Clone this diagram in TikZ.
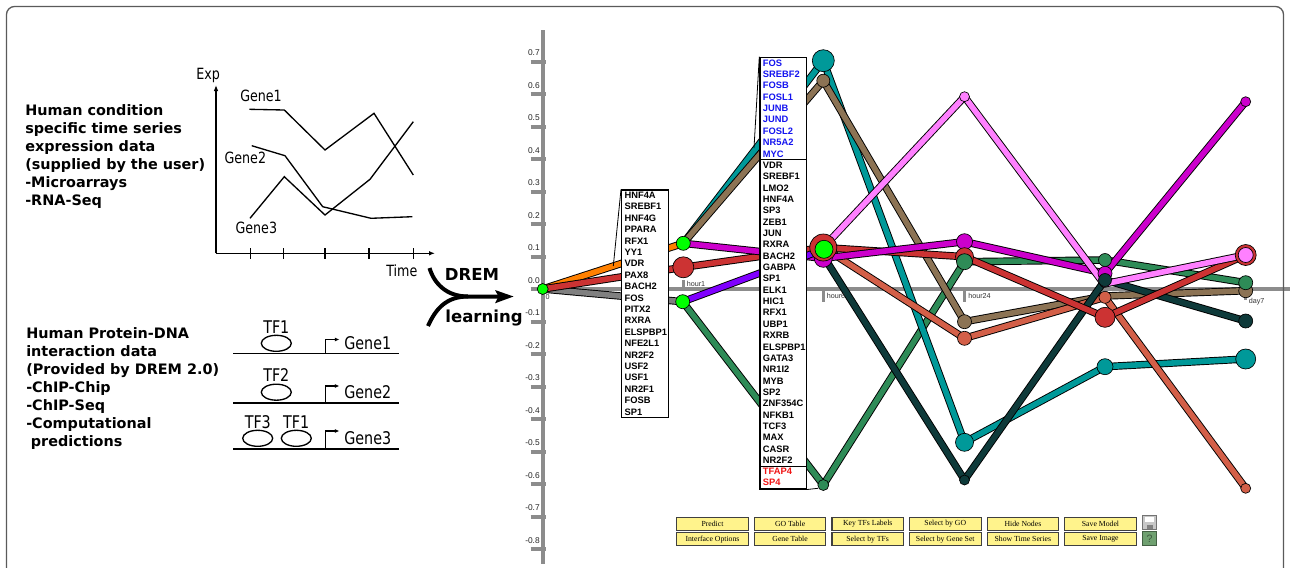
\documentclass[tikz,border=0pt]{standalone}
\usepackage{fontspec}
\setmainfont{DejaVu Sans}
\newfontfamily\condf{DejaVu Sans}[FakeStretch=0.82]
\newfontfamily\arialf{Liberation Sans}
\newfontfamily\serf{Liberation Serif}
\usetikzlibrary{arrows.meta,shapes.geometric}
\pgfdeclarelayer{axes}
\pgfdeclarelayer{edges}
\pgfsetlayers{axes,edges,main}
\definecolor{cLime}{HTML}{00FF00}
\definecolor{cOrange}{HTML}{FF8000}
\definecolor{cRed}{HTML}{CC3333}
\definecolor{cGray}{HTML}{808080}
\definecolor{cTeal}{HTML}{009999}
\definecolor{cBrown}{HTML}{8C7354}
\definecolor{cMag}{HTML}{CC00CC}
\definecolor{cPurple}{HTML}{8000FF}
\definecolor{cSea}{HTML}{2E8B57}
\definecolor{cPink}{HTML}{FF80FF}
\definecolor{cSalmon}{HTML}{D35F48}
\definecolor{cDark}{HTML}{0E3A3A}
\definecolor{cAxis}{HTML}{8C8C8C}
\definecolor{cBtn}{HTML}{FFF38C}
\definecolor{cBlue}{HTML}{1414F0}
\definecolor{cTxtRed}{HTML}{F01414}
\definecolor{cFrame}{HTML}{5A5A5A}
\definecolor{cHelp}{HTML}{6FA070}
\tikzset{
  pnode/.style={circle,draw=black,line width=0.5pt,fill=#1,inner sep=0pt},
  pedge/.style={draw=black,line width=0.7pt,double=#1,double distance=4.2pt,line join=round},
  axg/.style={draw=cAxis,line width=3pt},
  ttk/.style={draw=cAxis,line width=2.2pt},
  axl/.style={font=\arialf\fontsize{6.3pt}{7pt}\selectfont,inner sep=0pt,text=black!85},
  tml/.style={font=\arialf\fontsize{5.4pt}{6pt}\selectfont,inner sep=0pt,text=black!80},
  btxt/.style={font=\arialf\bfseries\fontsize{7pt}{8pt}\selectfont,inner sep=0pt,anchor=base west},
  tfbox/.style={rectangle,draw=black,line width=0.9pt,fill=white,inner sep=0pt,anchor=north west},
  btn/.style={rectangle,draw=black!75,line width=0.8pt,fill=cBtn,minimum width=53.6pt,minimum height=9.5pt,inner sep=0pt,font=\serf\fontsize{5.8pt}{6pt}\selectfont},
  lt/.style={font=\bfseries\fontsize{10.8pt}{13pt}\selectfont,inner sep=0pt,anchor=base west},
  gl/.style={font=\condf\fontsize{11.6pt}{12pt}\selectfont,inner sep=0pt,anchor=base west},
  tfl/.style={font=\condf\fontsize{13.1pt}{14pt}\selectfont,inner sep=0pt},
  gline/.style={draw=black,line width=1pt},
  dna/.style={draw=black,line width=1.2pt},
  tfell/.style={ellipse,draw=black,line width=1pt,inner sep=0pt,minimum width=22.5pt,minimum height=12pt},
  drem/.style={font=\bfseries\fontsize{12.4pt}{14pt}\selectfont,inner sep=0pt,anchor=base},
  callout/.style={draw=black,line width=0.6pt}
}
\begin{document}
\begin{tikzpicture}[x=0.75pt,y=-0.75pt]
\useasboundingbox (0,0) rectangle (1290,568);
% frame
\draw[cFrame,line width=1pt,rounded corners=6pt] (6.5,6.5) rectangle (1283.5,640);

% ---------- left: time series text ----------
\foreach \s [count=\i] in {Human condition,specific time series,expression data,{(supplied by the user)},-Microarrays,-RNA-Seq}
  \node[lt] (ex\i) at (25,{115+18*(\i-1)}) {\s};
\foreach \s [count=\i] in {Human Protein-DNA,interaction data,{(Provided by DREM 2.0)},-ChIP-Chip,-ChIP-Seq,-Computational,{\hspace*{3.5pt}predictions}}
  \node[lt] (pd\i) at (26,{338.3+18*(\i-1)}) {\s};

% ---------- expression sketch ----------
\draw[gline,-{Latex[length=4.5pt,width=3.5pt]}] (216,253.3) -- (216,85);
\draw[gline,-{Latex[length=4.5pt,width=3.5pt]}] (216,253.3) -- (435,253.3);
\foreach \xx in {250.7,283.3,325,369,413.3}
  \draw[gline] (\xx,248.3) -- (\xx,259.3);
\node[gl] (lexp) at (196,79) {Exp};
\node[gl] (ltime) at (386,276.7) {Time};
\node[gl] (lg1) at (240,101.7) {Gene1};
\node[gl] (lg2) at (224.3,163.3) {Gene2};
\node[gl] (lg3) at (235.3,233.3) {Gene3};
\draw[gline,line join=miter] (249.3,109.3) -- (284.3,110) -- (325,150) -- (374,113.3) -- (413.3,175);
\draw[gline,line join=miter] (251.7,145.7) -- (285,155.7) -- (322.7,206.7) -- (371,218.3) -- (412.3,216.7);
\draw[gline,line join=miter] (250,218.3) -- (284.3,176.7) -- (325,215) -- (370,179.3) -- (413.3,121.7);

% ---------- TF binding sketch ----------
\draw[dna] (233.3,353.3) -- (399.3,353.3);
\draw[dna] (233.3,402.7) -- (399.3,402.7);
\draw[dna] (233.3,449) -- (399.3,449);
\node[tfell] (e1) at (276.3,343.3) {};
\node[tfell] (e2) at (276.3,392.2) {};
\node[tfell] (e3) at (257.7,438.3) {};
\node[tfell] (e4) at (296.3,438.3) {};
\node[tfl,anchor=base] (tf1) at (276.3,333.3) {TF1};
\node[tfl,anchor=base] (tf2) at (276.3,381.7) {TF2};
\node[tfl,anchor=base] (tf3) at (257.8,428.3) {TF3};
\node[tfl,anchor=base] (tf4) at (296.2,428.3) {TF1};
\draw[gline,-{Latex[length=3.5pt,width=3pt]}] (325.3,353.3) -- (325.3,339.5) -- (339.5,339.5);
\draw[gline,-{Latex[length=3.5pt,width=3pt]}] (325.3,402.7) -- (325.3,386) -- (339.5,386);
\draw[gline,-{Latex[length=3.5pt,width=3pt]}] (325.3,449) -- (325.3,431) -- (339.5,431);
\node[tfl,anchor=base west] (pg1) at (344,349.3) {Gene1};
\node[tfl,anchor=base west] (pg2) at (344,398.3) {Gene2};
\node[tfl,anchor=base west] (pg3) at (344,444) {Gene3};

% ---------- DREM learning arrow ----------
\draw[line width=3pt] (429.5,268) .. controls (434,283) and (446,296.5) .. (468,296.5) -- (500,296.5);
\draw[line width=3pt] (428,326) .. controls (436,308) and (447,296.5) .. (468,296.5);
\fill (495,290) -- (513.5,296.5) -- (495,303.3) -- (498.5,296.5) -- cycle;
\node[drem] (tdrem) at (472,280) {DREM};
\node[drem] (tlearn) at (484,322) {learning};

% ---------- DREM chart axes ----------
\begin{pgfonlayer}{axes}
\draw[axg] (542.7,30) -- (542.7,564);
\draw[axg] (542.7,288.5) -- (1290,288.5);
\foreach \v [count=\i] in {0.7,0.6,0.5,0.4,0.3,0.2,0.1,0.0,-0.1,-0.2,-0.3,-0.4,-0.5,-0.6,-0.7,-0.8}{
  \draw[axg] (530.7,{61.5+32.5*(\i-1)}) -- (546,{61.5+32.5*(\i-1)});
}
\draw[ttk] (683.3,280) -- (683.3,288.5);
\draw[ttk] (823.3,288.5) -- (823.3,301.7);
\draw[ttk] (964.5,288.5) -- (964.5,301.7);
\draw[ttk] (1245.7,288.5) -- (1245.7,300);
\end{pgfonlayer}
\foreach \v [count=\i] in {0.7,0.6,0.5,0.4,0.3,0.2,0.1,0.0,-0.1,-0.2,-0.3,-0.4,-0.5,-0.6,-0.7,-0.8}
  \node[axl,anchor=east] (yl\i) at (540,{53+32.5*(\i-1)}) {\v};
\node[tml] (tl0) at (547.5,297) {0};
\node[tml,anchor=west] (tl1) at (686.5,284) {hour1};
\node[tml,anchor=west] (tl2) at (826.5,296) {hour6};
\node[tml,anchor=west] (tl3) at (968,296) {hour24};
\node[tml,anchor=west] (tl4) at (1248.5,301.5) {day7};

% ---------- nodes ----------
\node[pnode=cLime,minimum size=8.25pt] (n0) at (542.7,289) {};
\node[pnode=cLime,minimum size=10.5pt] (n1a) at (683.3,243.3) {};
\node[pnode=cRed,minimum size=15.75pt] (n1b) at (683.3,267.3) {};
\node[pnode=cLime,minimum size=10.5pt] (n1c) at (682.7,301.7) {};
\node[pnode=cTeal,minimum size=16.5pt] (n2teal) at (823.3,60.7) {};
\node[pnode=cBrown,minimum size=9.75pt] (n2brown) at (823.3,80.7) {};
\node[pnode=cSea,minimum size=8.25pt] (n2sea) at (823.3,485) {};
\coordinate (n2dark) at (823.3,256);
\node[pnode=cMag,minimum size=13.5pt] (n2mag) at (823.3,258.3) {};
\node[pnode=cRed,minimum size=20.25pt] (n2red) at (823.3,247.5) {};
\node[pnode=cLime,minimum size=13.5pt] (n2lime) at (824,249.3) {};
\node[pnode=cPink,minimum size=7.5pt] (n3pink) at (964.5,96.7) {};
\node[pnode=cMag,minimum size=12pt] (n3mag) at (964.5,241.7) {};
\node[pnode=cRed,minimum size=13.5pt] (n3red) at (964.5,256.7) {};
\node[pnode=cSea,minimum size=12pt] (n3sea) at (964.5,261.7) {};
\node[pnode=cBrown,minimum size=10.5pt] (n3brown) at (964.5,321.7) {};
\node[pnode=cSalmon,minimum size=10.5pt] (n3salmon) at (964.5,338.3) {};
\node[pnode=cTeal,minimum size=13.5pt] (n3teal) at (964.5,442.3) {};
\node[pnode=cDark,minimum size=7.5pt] (n3dark) at (964.5,480) {};
\coordinate (n4pink) at (1104,284);
\coordinate (n4brown) at (1105,296);
\node[pnode=cSea,minimum size=9.75pt] (n4sea) at (1105,260) {};
\node[pnode=cMag,minimum size=10.5pt] (n4mag) at (1105,273.3) {};
\node[pnode=cDark,minimum size=9.75pt] (n4dark) at (1105,280) {};
\node[pnode=cSalmon,minimum size=9pt] (n4salmon) at (1105,297.3) {};
\node[pnode=cRed,minimum size=15pt] (n4red) at (1105,317.3) {};
\node[pnode=cTeal,minimum size=12pt] (n4teal) at (1105,366.7) {};
\node[pnode=cMag,minimum size=7.5pt] (n5mag) at (1245.7,101.7) {};
\node[pnode=cRed,minimum size=15.75pt] (n5red) at (1245.7,255) {};
\node[pnode=cPink,minimum size=11.25pt] (n5pink) at (1245.7,255) {};
\node[pnode=cBrown,minimum size=10.5pt] (n5brown) at (1245.7,290.7) {};
\node[pnode=cSea,minimum size=10.5pt] (n5sea) at (1245.7,282.7) {};
\node[pnode=cDark,minimum size=10.5pt] (n5dark) at (1245.7,321) {};
\node[pnode=cTeal,minimum size=15pt] (n5teal) at (1245.7,359) {};
\node[pnode=cSalmon,minimum size=7.5pt] (n5salmon) at (1245.7,488.3) {};

% ---------- edges ----------
\begin{pgfonlayer}{edges}
\draw[pedge=cGray] (n0.center) -- (n1c.center);
\draw[pedge=cOrange] (n0.center) -- (n1a.center);
\draw[pedge=cRed] (n0.center) -- (n1b.center);
\draw[pedge=cSea] (n1c.center) -- (n2sea.center) -- (n3sea.center) -- (n4sea.center) -- (n5sea.center);
\draw[pedge=cTeal] (n1a.center) -- (n2teal.center) -- (n3teal.center) -- (n4teal.center) -- (n5teal.center);
\draw[pedge=cBrown] (n1a.center) -- (n2brown.center) -- (n3brown.center) -- (n4brown) -- (n5brown.center);
\draw[pedge=cSalmon] (n2red.center) -- (n3salmon.center) -- (n4salmon.center) -- (n5salmon.center);
\draw[pedge=cDark] (n2dark) -- (n3dark.center) -- (n4dark.center) -- (n5dark.center);
\draw[pedge=cRed] (n1b.center) -- (n2red.center) -- (n3red.center) -- (n4red.center) -- (n5red.center);
\draw[pedge=cMag] (n1a.center) -- (n2mag.center) -- (n3mag.center) -- (n4mag.center) -- (n5mag.center);
\draw[pedge=cPurple] (n1c.center) -- (n2lime.center);
\draw[pedge=cPink] (n2red.center) -- (n3pink.center) -- (n4pink) -- (n5pink.center);
\end{pgfonlayer}

% ---------- TF boxes ----------
\node[tfbox,minimum width=35.25pt,minimum height=170.55pt] (box1) at (621,189.3) {};
\foreach \s [count=\i] in {HNF4A,SREBF1,HNF4G,PPARA,RFX1,YY1,VDR,PAX8,BACH2,FOS,PITX2,RXRA,ELSPBP1,NFE2L1,NR2F2,USF2,USF1,NR2F1,FOSB,SP1}
  \node[btxt] (bA\i) at (624.3,{198.4+11.4*(\i-1)}) {\s};
\coordinate (c1) at (613.3,266);
\draw[callout] (box1.north west) -- (c1);

\node[tfbox,minimum width=35pt,minimum height=76.5pt] (box2a) at (759.3,56.7) {};
\node[tfbox,minimum width=35pt,minimum height=230.25pt] (box2b) at (759.3,158.7) {};
\node[tfbox,minimum width=35pt,minimum height=16.95pt] (box2c) at (759.3,465.7) {};
\foreach \s [count=\i] in {FOS,SREBF2,FOSB,FOSL1,JUNB,JUND,FOSL2,NR5A2,MYC}
  \node[btxt,text=cBlue] (bB\i) at (762.7,{66.1+11.37*(\i-1)}) {\s};
\foreach \s [count=\i] in {VDR,SREBF1,LMO2,HNF4A,SP3,ZEB1,JUN,RXRA,BACH2,GABPA,SP1,ELK1,HIC1,RFX1,UBP1,RXRB,ELSPBP1,GATA3,NR1I2,MYB,SP2,ZNF354C,NFKB1,TCF3,MAX,CASR,NR2F2}
  \node[btxt] (bC\i) at (762.7,{168.4+11.35*(\i-1)}) {\s};
\foreach \s [count=\i] in {TFAP4,SP4}
  \node[btxt,text=cTxtRed] (bD\i) at (762.7,{474.4+11.3*(\i-1)}) {\s};
\coordinate (c2) at (754,148);
\draw[callout] (box2a.north west) -- (c2);
\coordinate (c3) at (818,488.3);
\draw[callout] (box2c.south east) -- (c3);

% ---------- buttons ----------
\foreach \s [count=\i] in {Predict,GO Table,Key TFs Labels,Select by GO,Hide Nodes,Save Model}
  \node[btn] (btA\i) at ({712.5+77.6*(\i-1)},523.7) {\s};
\foreach \s [count=\i] in {Interface Options,Gene Table,Select by TFs,Select by Gene Set,Show Time Series,Save Image}
  \node[btn] (btB\i) at ({712.5+77.6*(\i-1)},539.2) {\s};
\node[rectangle,draw=black!55,line width=0.6pt,fill=black!22,minimum width=10.8pt,minimum height=11pt,inner sep=0pt] (saveic) at (1149.5,522.5) {};
\fill[white] (1145.3,516.5) rectangle (1153.7,522);
\fill[black!50] (1146.5,524.5) rectangle (1152.5,529);
\node[rectangle,draw=cHelp!60!black,line width=0.6pt,fill=cHelp,minimum width=10.8pt,minimum height=11pt,inner sep=0pt,text=cHelp!55!black,font=\arialf\fontsize{8pt}{8pt}\selectfont] (helpic) at (1149.5,538.3) {?};
\end{tikzpicture}
\end{document}
